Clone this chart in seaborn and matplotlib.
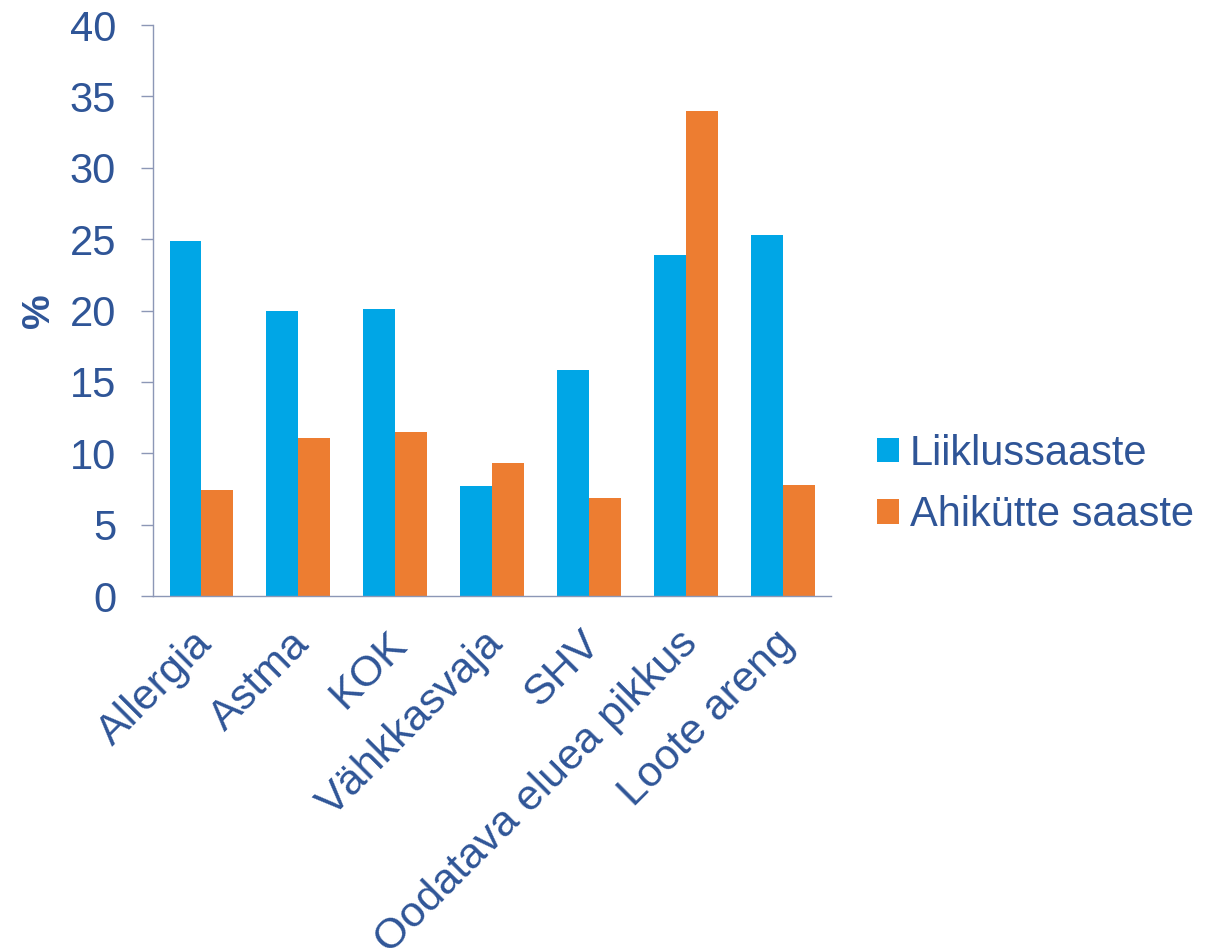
import matplotlib
matplotlib.use("Agg")
import matplotlib.pyplot as plt
import matplotlib.transforms as mtransforms
import seaborn as sns
import pandas as pd

# Health effects attributed to each pollution source (%)
categories = ["Allergia", "Astma", "KOK", "Vähkkasvaja", "SHV",
              "Oodatava eluea pikkus", "Loote areng"]
liiklus = [24.9, 20.0, 20.1, 7.7, 15.8, 23.9, 25.3]
ahikutte = [7.4, 11.1, 11.5, 9.3, 6.9, 34.0, 7.8]
series_names = ["Liiklussaaste", "Ahikütte saaste"]
y_ticks = [0, 5, 10, 15, 20, 25, 30, 35, 40]

TEXT = "#2F5597"
AXIS = "#8C97B6"
colors = ["#00A6E6", "#ED7D31"]

df = pd.DataFrame({
    "kategooria": categories * 2,
    "väärtus": liiklus + ahikutte,
    "seeria": [series_names[0]] * len(categories) + [series_names[1]] * len(categories),
})

sns.set_theme(style="white")
plt.rcParams["font.family"] = ["Liberation Sans", "DejaVu Sans"]

fig = plt.figure(figsize=(12.05, 9.48), dpi=100)
ax = fig.add_axes([0.127, 0.3713, 0.563, 0.6023])

sns.barplot(data=df, x="kategooria", y="väärtus", hue="seeria",
            palette=colors, width=0.66, gap=0, saturation=1,
            order=categories, hue_order=series_names, ax=ax,
            edgecolor="none", linewidth=0, errorbar=None)

ax.set_xlim(-0.5, len(categories) - 0.5)
ax.set_ylim(0, 40)
ax.set_yticks(y_ticks)
ax.set_yticklabels([str(t) for t in y_ticks])

for side in ["top", "right"]:
    ax.spines[side].set_visible(False)
for side in ["left", "bottom"]:
    ax.spines[side].set_color(AXIS)
    ax.spines[side].set_linewidth(1.0)

ax.tick_params(axis="y", direction="out", length=8.6, width=1.0, color=AXIS,
               labelsize=30, labelcolor=TEXT, pad=18, left=True)
ax.tick_params(axis="x", length=0, labelsize=31, labelcolor=TEXT, pad=30)
shift = mtransforms.ScaledTranslation(5 / 100, 0, fig.dpi_scale_trans)
for lab in ax.get_xticklabels():
    lab.set_rotation(45)
    lab.set_ha("right")
    lab.set_va("center")
    lab.set_rotation_mode("anchor")
    lab.set_transform(lab.get_transform() + shift)

ax.set_xlabel("")
ax.set_ylabel("%", fontsize=28, fontweight="bold", color=TEXT, labelpad=9)

handles, labels = ax.get_legend_handles_labels()
ax.get_legend().remove()
fig.legend(handles, labels, loc="center left", bbox_to_anchor=(0.728, 0.489),
           frameon=False, fontsize=30, labelcolor=TEXT,
           handlelength=0.53, handleheight=0.53, handletextpad=0.25,
           labelspacing=0.51, borderpad=0, borderaxespad=0)

fig.savefig("out.png", dpi=100, facecolor="white")
